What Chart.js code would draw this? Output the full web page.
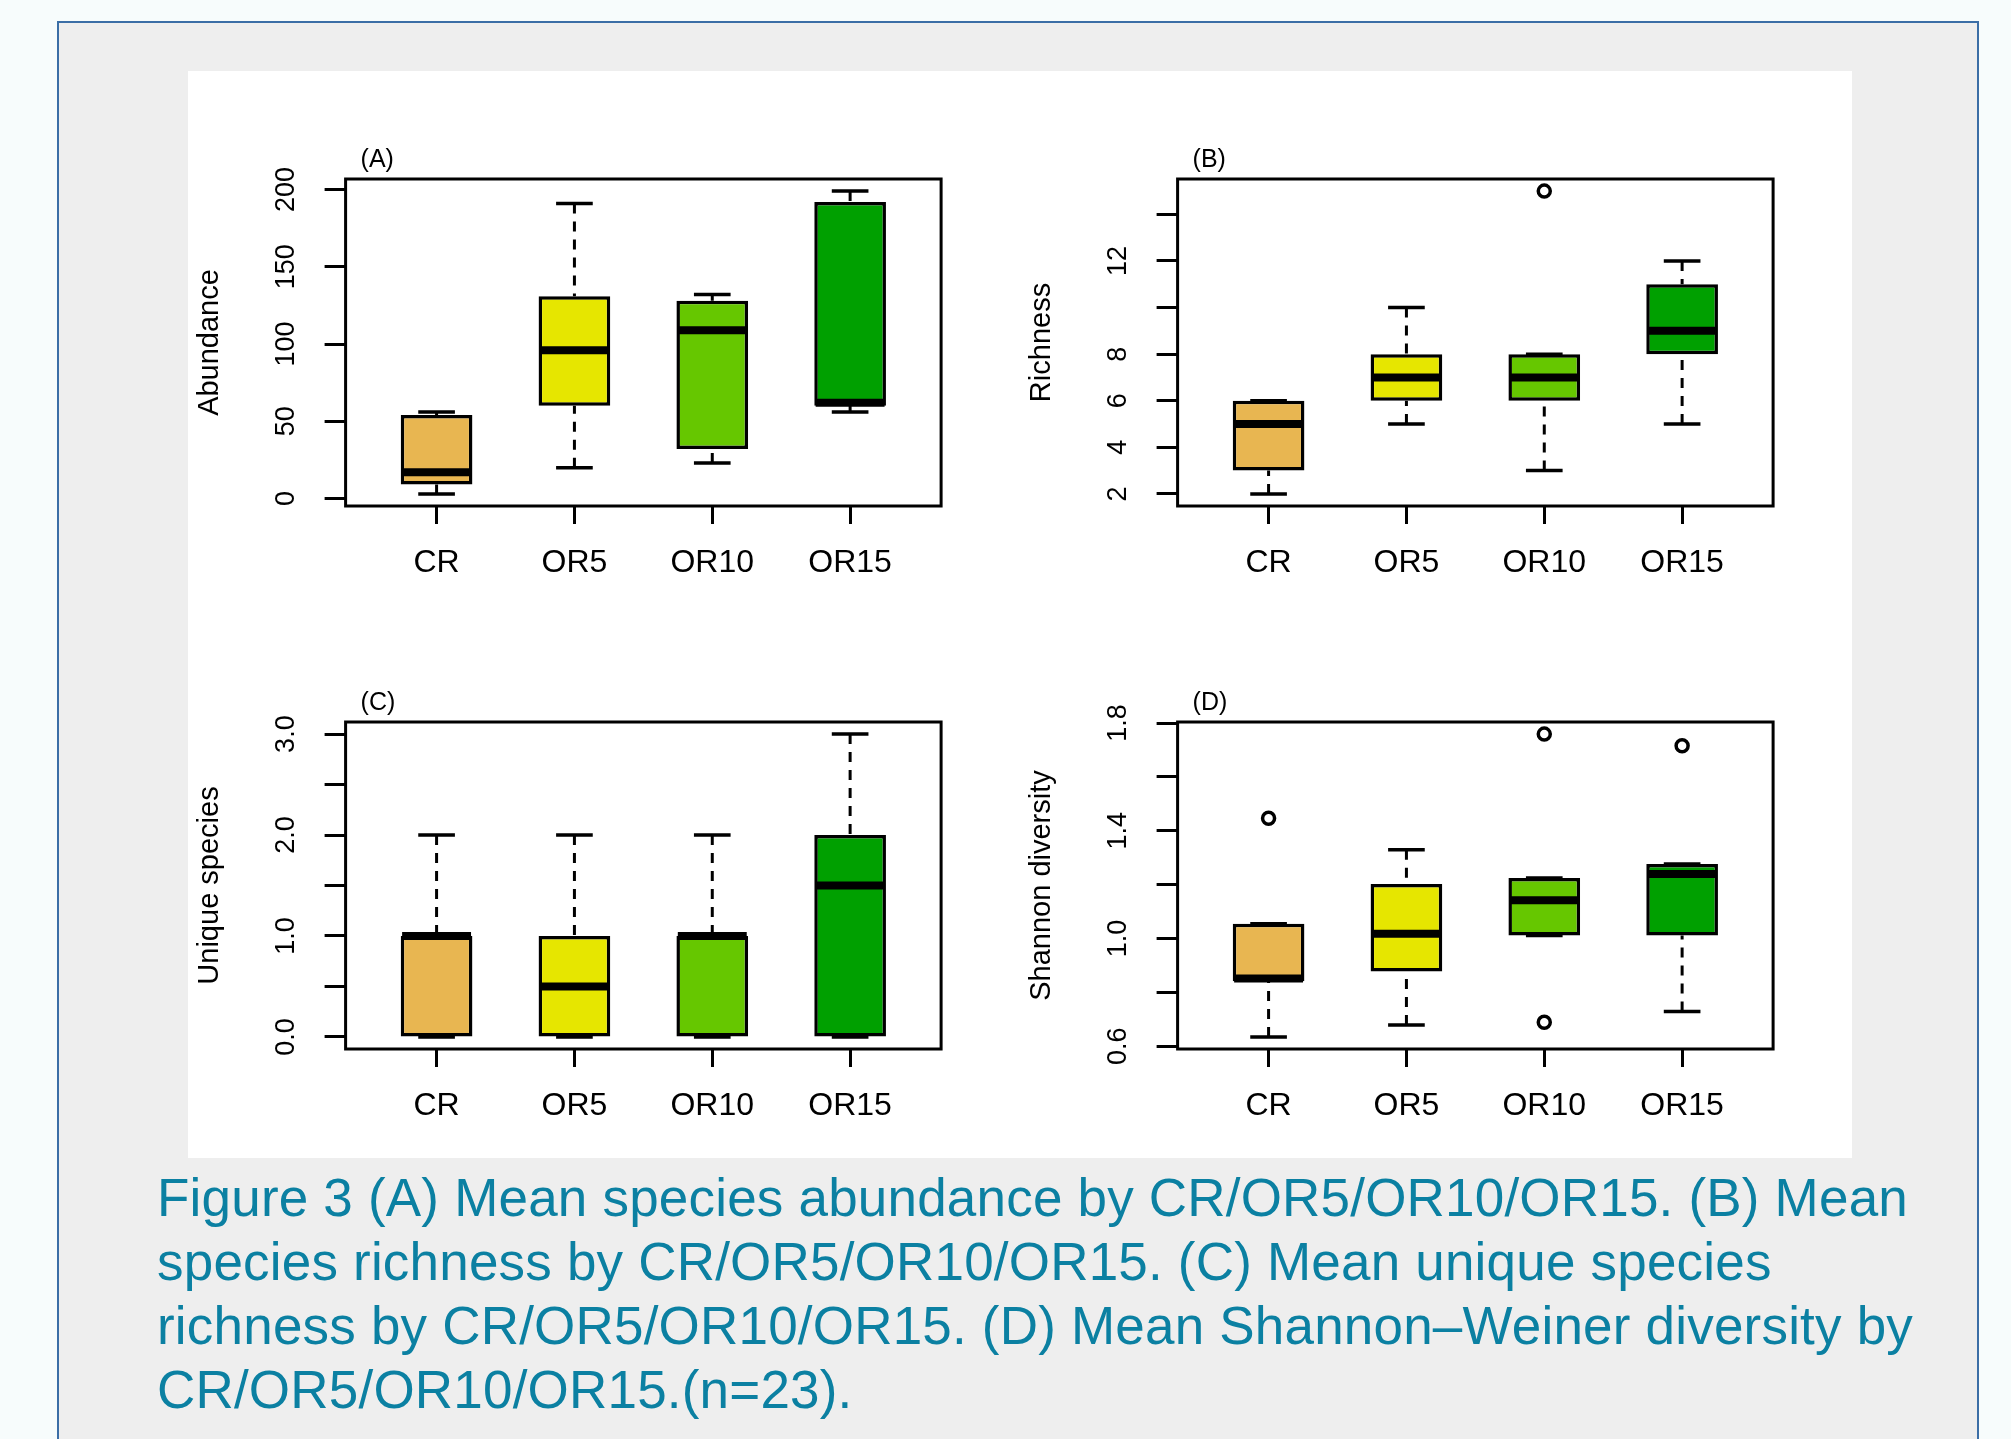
<!DOCTYPE html>
<html>
<head>
<meta charset="utf-8">
<script src="https://cdn.jsdelivr.net/npm/chart.js@4.4.1/dist/chart.umd.min.js"></script>
<style>
  html, body { margin: 0; padding: 0; background: #f7fcfc; }
  #page { position: relative; width: 2011px; height: 1439px; overflow: hidden; font-family: "Liberation Sans", Arial, sans-serif; }
  #frame { position: absolute; left: 57px; top: 21px; width: 1918px; height: 1440px; background: #eeeeee; border: 2px solid #3b6ea6; }
  #fig { position: absolute; left: 188px; top: 71px; width: 1664px; height: 1087px; background: #fff; }
  canvas { position: absolute; }
  #caption { position: absolute; left: 157px; top: 1166px; font-size: 53px; letter-spacing: 0.2px; line-height: 64px; color: #0b80a2; white-space: nowrap; }
</style>
</head>
<body>
<div id="page">
  <div id="frame"></div>
  <div id="fig"></div>
  <canvas id="cA" width="810" height="480" style="left:150px;top:120px"></canvas>
  <canvas id="cB" width="810" height="480" style="left:982px;top:120px"></canvas>
  <canvas id="cC" width="810" height="480" style="left:150px;top:663px"></canvas>
  <canvas id="cD" width="810" height="480" style="left:982px;top:663px"></canvas>
  <div id="caption">
    <div>Figure 3 (A) Mean species abundance by CR/OR5/OR10/OR15. (B) Mean</div>
    <div>species richness by CR/OR5/OR10/OR15. (C) Mean unique species</div>
    <div>richness by CR/OR5/OR10/OR15. (D) Mean Shannon–Weiner diversity by</div>
    <div>CR/OR5/OR10/OR15.(n=23).</div>
  </div>
</div>
<script>
const groups = ['CR', 'OR5', 'OR10', 'OR15'];
const boxFill = ['#e8b651', '#e6e600', '#66c700', '#00a000'];

// (A) abundance
const abundLow  = [3, 20, 23, 56];
const abundQ1   = [9, 60, 32, 60];
const abundMed  = [17, 96, 109, 62];
const abundQ3   = [54, 131, 128, 192];
const abundHigh = [56, 191, 132, 199];
const abundOut  = [[], [], [], []];
const abundTicks = [0, 50, 100, 150, 200];
const abundTickLabels = ['0', '50', '100', '150', '200'];

// (B) richness
const richLow  = [2, 5, 3, 5];
const richQ1   = [3, 6, 6, 8];
const richMed  = [5, 7, 7, 9];
const richQ3   = [6, 8, 8, 11];
const richHigh = [6, 10, 8, 12];
const richOut  = [[], [], [15], []];
const richTicks = [2, 4, 6, 8, 10, 12, 14];
const richTickLabels = ['2', '4', '6', '8', '', '12', ''];

// (C) unique species
const uniqLow  = [0, 0, 0, 0];
const uniqQ1   = [0, 0, 0, 0];
const uniqMed  = [1, 0.5, 1, 1.5];
const uniqQ3   = [1, 1, 1, 2];
const uniqHigh = [2, 2, 2, 3];
const uniqOut  = [[], [], [], []];
const uniqTicks = [0, 0.5, 1, 1.5, 2, 2.5, 3];
const uniqTickLabels = ['0.0', '', '1.0', '', '2.0', '', '3.0'];

// (D) shannon diversity
const shanLow  = [0.635, 0.679, 1.011, 0.729];
const shanQ1   = [0.842, 0.878, 1.011, 1.011];
const shanMed  = [0.852, 1.018, 1.142, 1.240];
const shanQ3   = [1.055, 1.203, 1.225, 1.277];
const shanHigh = [1.055, 1.330, 1.225, 1.277];
const shanOut  = [[1.447], [], [1.759, 0.689], [1.716]];
const shanTicks = [0.6, 0.8, 1.0, 1.2, 1.4, 1.6, 1.8];
const shanTickLabels = ['0.6', '', '1.0', '', '1.4', '', '1.8'];

const FONT = '"Liberation Sans", Arial, sans-serif';
Chart.defaults.font.family = FONT;
Chart.defaults.color = '#000';

const framePlugin = {
  id: 'frame',
  afterDraw(chart, args, opts) {
    const { ctx, chartArea: a } = chart;
    ctx.save();
    ctx.strokeStyle = '#000';
    ctx.lineWidth = 3;
    ctx.strokeRect(a.left, a.top, a.right - a.left, a.bottom - a.top);
    ctx.fillStyle = '#000';
    ctx.font = '25px ' + FONT;
    ctx.textBaseline = 'alphabetic';
    ctx.fillText(opts.tag, a.left + 15, a.top - 12);
    ctx.restore();
  }
};

const measureCtx = document.createElement('canvas').getContext('2d');

function boxChart(id, tag, title, low, q1, med, q3, high, out, ticks, tickLabels) {
  const all = low.concat(high, ...out);
  const lo = Math.min(...all), hi = Math.max(...all), ext = (hi - lo) * 0.04;

  const whisk = [], caps = [], meds = [], outs = [];
  groups.forEach((g, i) => {
    const x = i + 1;
    whisk.push({ x, y: high[i] }, { x, y: q3[i] }, { x, y: null }, { x, y: low[i] }, { x, y: q1[i] }, { x, y: null });
    caps.push({ x: x - 0.133, y: high[i] }, { x: x + 0.133, y: high[i] }, { x, y: null },
              { x: x - 0.133, y: low[i] }, { x: x + 0.133, y: low[i] }, { x, y: null });
    meds.push({ x: x - 0.25, y: med[i] }, { x: x + 0.25, y: med[i] }, { x, y: null });
    out[i].forEach(v => outs.push({ x, y: v }));
  });

  measureCtx.font = '27px ' + FONT;
  const widest = Math.max(...tickLabels.map(t => measureCtx.measureText(t).width));

  new Chart(document.getElementById(id), {
    type: 'bar',
    data: {
      datasets: [
        { type: 'line', data: whisk, borderColor: '#000', borderWidth: 3, borderDash: [10, 8], pointRadius: 0, order: 5 },
        { data: groups.map((g, i) => ({ x: i + 1, y: [q1[i], q3[i]] })), backgroundColor: boxFill, borderColor: '#000',
          borderWidth: 3.5, borderSkipped: false, barPercentage: 0.52, categoryPercentage: 1, grouped: false, order: 4 },
        { type: 'line', data: meds, borderColor: '#000', borderWidth: 8, borderCapStyle: 'butt', pointRadius: 0, order: 3 },
        { type: 'line', data: caps, borderColor: '#000', borderWidth: 3.5, borderCapStyle: 'butt', pointRadius: 0, order: 2 },
        { type: 'scatter', data: outs, pointRadius: 6, pointBorderWidth: 3.5, pointBorderColor: '#000',
          pointBackgroundColor: 'rgba(0,0,0,0)', order: 1 }
      ]
    },
    options: {
      responsive: false,
      devicePixelRatio: 1,
      animation: false,
      events: [],
      layout: { padding: { left: 0, top: 59, right: 18.9, bottom: 0 } },
      plugins: { legend: { display: false }, tooltip: { enabled: false }, frame: { tag } },
      scales: {
        x: {
          type: 'linear', min: 0.34, max: 4.66, offset: false,
          afterBuildTicks: s => { s.ticks = groups.map((g, i) => ({ value: i + 1 })); },
          afterFit: s => { s.height = 94; },
          ticks: { callback: v => groups[v - 1], font: { size: 32 }, color: '#000', padding: 20 },
          grid: { offset: false, drawOnChartArea: false, tickLength: 18, tickWidth: 3, tickColor: '#000' },
          border: { display: false }
        },
        y: {
          min: lo - ext, max: hi + ext,
          afterBuildTicks: s => { s.ticks = ticks.map(v => ({ value: v })); },
          afterFit: s => { s.width = 195.6; },
          ticks: { callback: (v, i) => tickLabels[i], font: { size: 27 }, color: '#000',
                   minRotation: 90, maxRotation: 90, crossAlign: 'center', padding: 38 - widest / 2 },
          grid: { drawOnChartArea: false, tickLength: 21, tickWidth: 3, tickColor: '#000' },
          border: { display: false },
          title: { display: true, text: title, font: { size: 29 }, color: '#000', padding: { top: 42.5, bottom: 0 } }
        }
      }
    },
    plugins: [framePlugin]
  });
}

boxChart('cA', '(A)', 'Abundance', abundLow, abundQ1, abundMed, abundQ3, abundHigh, abundOut, abundTicks, abundTickLabels);
boxChart('cB', '(B)', 'Richness', richLow, richQ1, richMed, richQ3, richHigh, richOut, richTicks, richTickLabels);
boxChart('cC', '(C)', 'Unique species', uniqLow, uniqQ1, uniqMed, uniqQ3, uniqHigh, uniqOut, uniqTicks, uniqTickLabels);
boxChart('cD', '(D)', 'Shannon diversity', shanLow, shanQ1, shanMed, shanQ3, shanHigh, shanOut, shanTicks, shanTickLabels);
</script>
</body>
</html>
